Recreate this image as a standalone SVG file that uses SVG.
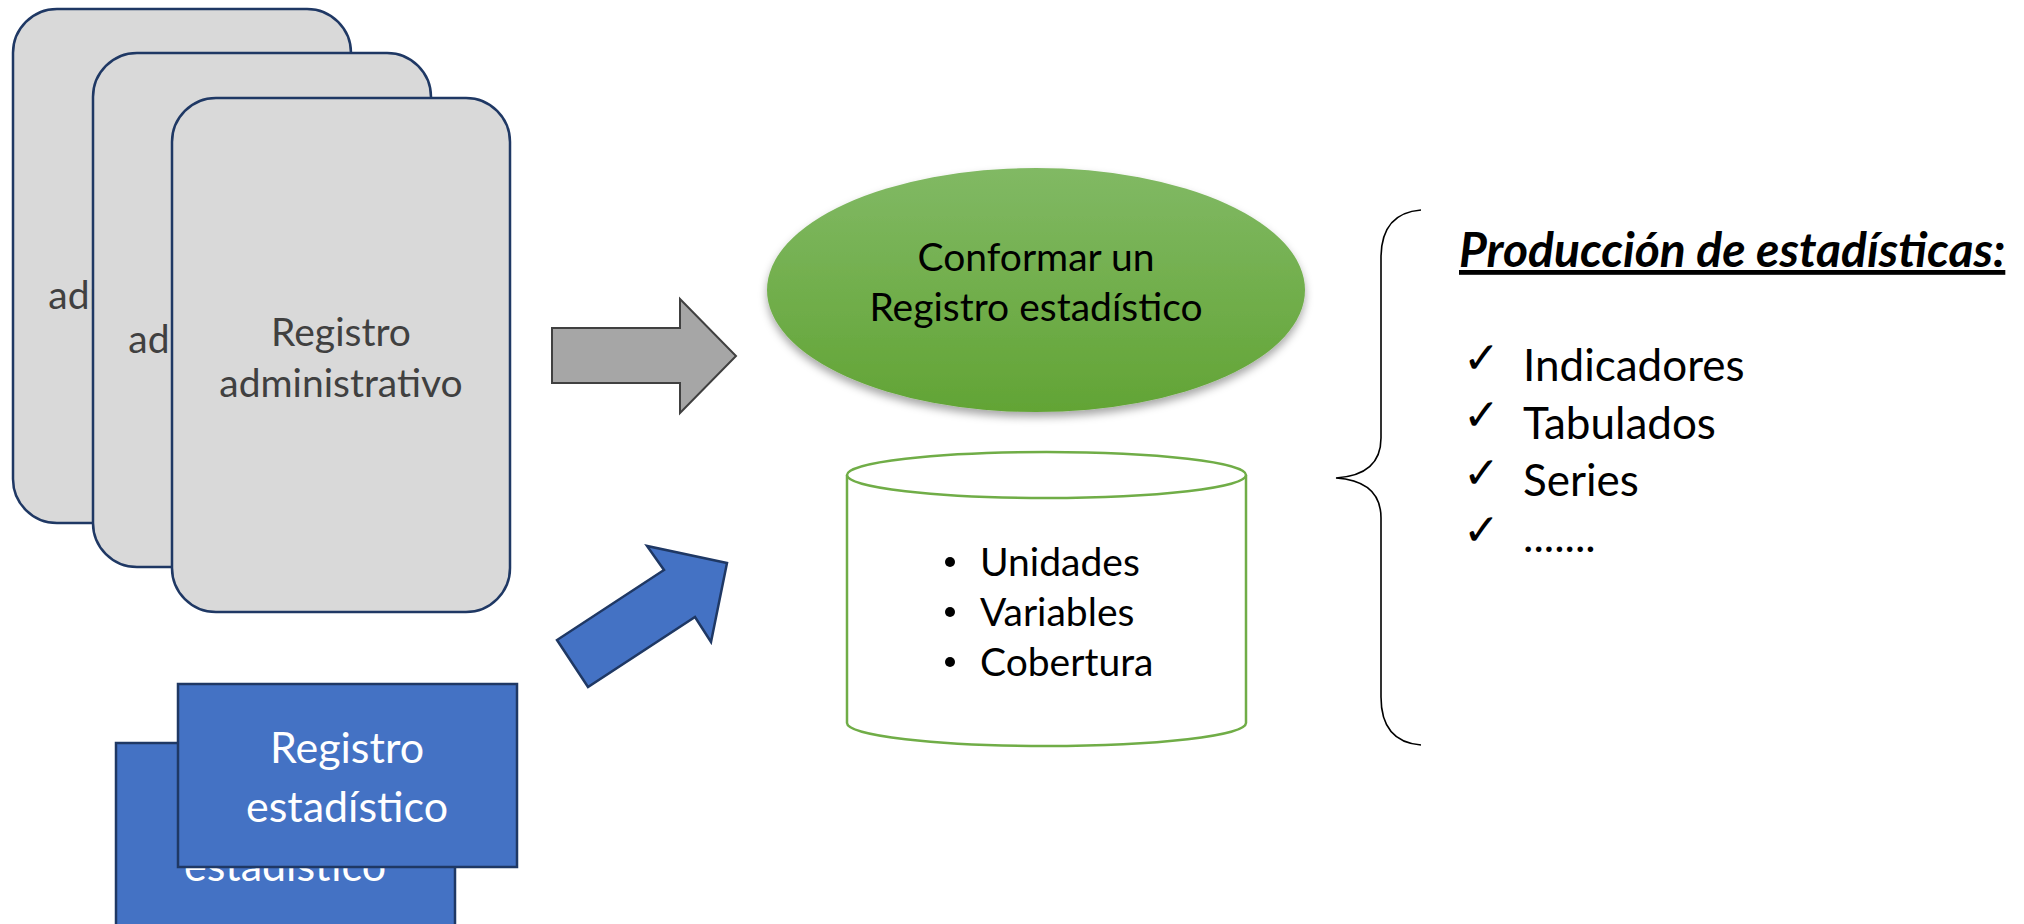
<svg xmlns="http://www.w3.org/2000/svg" width="2024" height="924" viewBox="0 0 2024 924">
<defs>
<linearGradient id="gGreen" x1="0" y1="0" x2="0" y2="1">
<stop offset="0" stop-color="#81b964"/>
<stop offset="1" stop-color="#62a435"/>
</linearGradient>
<filter id="shadow" x="-20%" y="-20%" width="140%" height="150%">
<feDropShadow dx="0" dy="5" stdDeviation="4" flood-color="#000" flood-opacity="0.35"/>
</filter>
</defs>
<style>
.card{fill:#d9d9d9;stroke:#1f3864;stroke-width:2.5}
.cardtxt{font-family:Lato,"Liberation Sans",sans-serif;font-size:39px;fill:#404040;text-anchor:middle}
.bbox{fill:#4472c4;stroke:#1f3864;stroke-width:2.5}
.btxt{font-family:Lato,"Liberation Sans",sans-serif;font-size:43px;fill:#ffffff;text-anchor:middle}
.etxt{font-family:Lato,"Liberation Sans",sans-serif;font-size:39px;fill:#000;text-anchor:middle}
.ctxt{font-family:Lato,"Liberation Sans",sans-serif;font-size:39px;fill:#000}
.ltxt{font-family:Lato,"Liberation Sans",sans-serif;font-size:44px;fill:#000}
.chk{font-family:"DejaVu Sans",sans-serif;font-size:44px;font-weight:bold;fill:#000}
.title{font-family:Lato,"Liberation Sans",sans-serif;font-size:48px;font-weight:bold;font-style:italic;fill:#000}
</style>

<g id="card1">
<rect class="card" x="13" y="9" width="338" height="514" rx="44"/>
<text class="cardtxt" x="170" y="258">Registro</text>
<text class="cardtxt" x="170" y="309">administrativo</text>
</g>
<g id="card2">
<rect class="card" x="93" y="53" width="338" height="514" rx="44"/>
<text class="cardtxt" x="250" y="302">Registro</text>
<text class="cardtxt" x="250" y="353">administrativo</text>
</g>
<g id="card3">
<rect class="card" x="172" y="98" width="338" height="514" rx="44"/>
<text class="cardtxt" x="341" y="346">Registro</text>
<text class="cardtxt" x="341" y="397">administrativo</text>
</g>

<g id="blue-back">
<rect class="bbox" x="116" y="743" width="339" height="200"/>
<text class="btxt" x="285" y="822">Registro</text>
<text class="btxt" x="285" y="881">estadístico</text>
</g>
<g id="blue-front">
<rect class="bbox" x="178" y="684" width="339" height="183"/>
<text class="btxt" x="347" y="763">Registro</text>
<text class="btxt" x="347" y="822">estadístico</text>
</g>

<g id="connectors">
<polygon points="552,328 680,328 680,299 736,356 680,413 680,383 552,383" fill="#a6a6a6" stroke="#404040" stroke-width="2"/>
<polygon points="557,640 588,687 695,617 711,642 727,563 647,546 664,570" fill="#4472c4" stroke="#1f3864" stroke-width="2.5" stroke-linejoin="miter"/>
</g>

<g id="ellipse-node">
<ellipse cx="1036" cy="290" rx="269" ry="122" fill="url(#gGreen)" filter="url(#shadow)"/>
<text class="etxt" x="1036" y="271">Conformar un</text>
<text class="etxt" x="1036" y="321">Registro estadístico</text>
</g>

<g id="cylinder">
<path d="M847,475 L847,723 A199.5,23 0 0 0 1246,723 L1246,475" fill="#fff" stroke="#70ad47" stroke-width="2.5"/>
<ellipse cx="1046.5" cy="475" rx="199.5" ry="23" fill="#fff" stroke="#70ad47" stroke-width="2.5"/>
<circle cx="950" cy="562" r="5" fill="#000"/>
<circle cx="950" cy="612" r="5" fill="#000"/>
<circle cx="950" cy="662" r="5" fill="#000"/>
<text class="ctxt" x="980" y="576">Unidades</text>
<text class="ctxt" x="980" y="626">Variables</text>
<text class="ctxt" x="980" y="676">Cobertura</text>
</g>

<g id="brace">
<path d="M1421,210 C1395,212 1381,228 1381,258 L1381,438 C1381,462 1366,476 1336,478 C1366,480 1381,494 1381,518 L1381,697 C1381,727 1395,743 1421,745" fill="none" stroke="#000" stroke-width="1.6"/>
</g>

<g id="production">
<text class="title" x="1459" y="267" text-decoration="underline">Producción de estadísticas:</text>
<text class="chk" x="1463" y="373">✓</text>
<text class="chk" x="1463" y="430">✓</text>
<text class="chk" x="1463" y="488">✓</text>
<text class="chk" x="1463" y="545">✓</text>
<text class="ltxt" x="1523" y="381">Indicadores</text>
<text class="ltxt" x="1523" y="439">Tabulados</text>
<text class="ltxt" x="1523" y="496">Series</text>
<text class="ltxt" x="1523" y="552">.......</text>
</g>
</svg>
